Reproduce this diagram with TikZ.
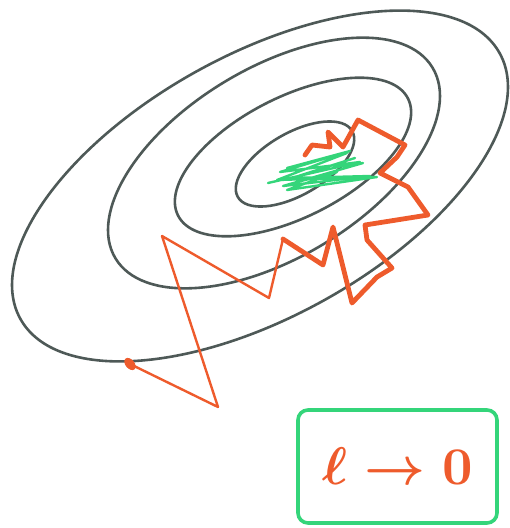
\documentclass[tikz,border=0pt]{standalone}
\usepackage{amsmath}
\usepackage{graphicx}
\definecolor{contour}{HTML}{4E5957}
\definecolor{bigstep}{HTML}{EE5B2C}
\definecolor{smallstep}{HTML}{34D57A}
\begin{document}
\begin{tikzpicture}[x=1pt,y=-1pt,
  level/.style={draw=contour,line width=2.6pt},
  thinpath/.style={draw=bigstep,line width=2.4pt,line join=round,line cap=round},
  thickpath/.style={draw=bigstep,line width=4.8pt,line join=round,line cap=round},
  scribble/.style={draw=smallstep,line width=2.4pt,line join=round,line cap=round},
  lrbox/.style={draw=smallstep,line width=3.6pt,rounded corners=10pt,minimum width=199pt,minimum height=113pt,
    text=bigstep}]
\useasboundingbox (0,0) rectangle (510,528);
% level sets of the loss
\draw[level,rotate around={30:(295,164)}] (295,164) ellipse [x radius=66, y radius=31];
\draw[level,rotate around={27:(293,157)}] (293,157) ellipse [x radius=129, y radius=60];
\draw[level,rotate around={31:(274,163)}] (274,163) ellipse [x radius=185, y radius=95];
\draw[level,rotate around={29:(260,186)}] (260,186) ellipse [x radius=274, y radius=131];
% large step size
\coordinate (start) at (130,364);
\fill[bigstep,rotate around={40:(start)}] (start) ellipse [x radius=4.5, y radius=7];
\draw[thinpath] (start) -- (218,407) -- (162,236) -- (269,298) -- (283,239);
\draw[thickpath] (283,239) -- (323,265) -- (333,227) -- (352,303) -- (377,277) -- (392,268)
  -- (367,240) -- (365,225) -- (428,215) -- (408,187) -- (380,173) -- (397,157) -- (405,145)
  -- (358,120) -- (343,147) -- (328,132) -- (330,147) -- (312,145) -- (305,155);
% small step size
\draw[scribble] (268,183) -- (360,162) -- (280,172) -- (350,151) -- (287,168) -- (347,153)
  -- (277,180) -- (377,177) -- (287,190) -- (337,172) -- (297,182) -- (363,163)
  -- (283,186) -- (370,176) -- (292,178) -- (355,158);
\node[lrbox] (rate) at (397.5,466.5) {\scalebox{5.3}{\boldmath$\ell\rightarrow 0$}};
\end{tikzpicture}
\end{document}
